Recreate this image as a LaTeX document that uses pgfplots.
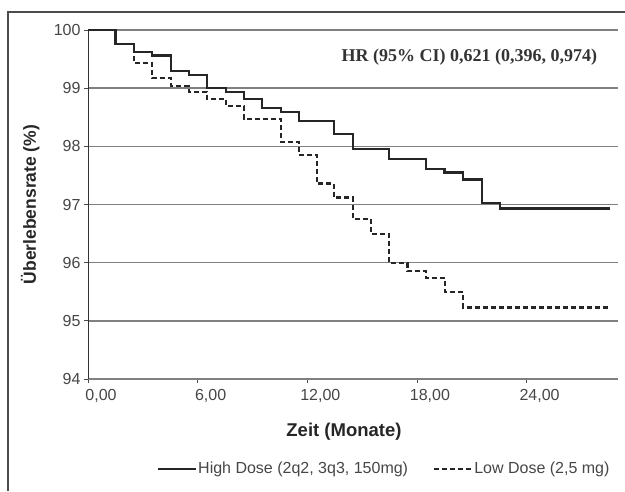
\documentclass[border=0pt]{standalone}
\usepackage{pgfplots}
\pgfplotsset{compat=1.18}
\usepackage{fontspec}
\setmainfont{Liberation Sans}
\newfontfamily\timesfont{Liberation Serif}
\definecolor{gridgray}{RGB}{128,128,128}
\definecolor{txtgray}{RGB}{70,70,70}
\begin{document}
\begin{tikzpicture}[x=1pt,y=1pt]
\path[use as bounding box] (0,0) rectangle (625,491);
\draw[line width=1.2pt, black!70] (8,0) -- (8,479) -- (625,479);
\begin{axis}[
    at={(88pt,112pt)}, anchor=south west,
    scale only axis,
    width=530pt, height=349pt,
    xmin=0, xmax=29,
    ymin=94, ymax=100,
    axis x line=bottom, axis y line=left,
    axis line style={-},
    x axis line style={gridgray, line width=1.5pt},
    y axis line style={black!80, line width=0.9pt},
    xtick={0,6,12,18,24},
    xticklabels={{0,00},{6,00},{12,00},{18,00},{24,00}},
    ytick={94,95,96,97,98,99,100},
    tick align=outside,
    major tick length=4pt,
    tick style={black!70, line width=0.8pt},
    ymajorgrids,
    grid style={gridgray, line width=1.5pt},
    tick label style={font=\fontsize{16}{19}\selectfont, text=txtgray},
    xticklabel style={xshift=13pt, yshift=-3pt},
    /pgf/number format/assume math mode=true,
    every axis x label/.style={at={(axis description cs:0.483,-0.152)}, anchor=center},
    every axis y label/.style={at={(axis description cs:-0.109,0.5)}, anchor=center, rotate=90},
    xlabel={\fontsize{18.5}{22}\selectfont\bfseries Zeit (Monate)},
    ylabel={\fontsize{17.5}{21}\selectfont\bfseries Überlebensrate (\%)},
    label style={text=black!85},
    legend style={draw=none, fill=none, at={(axis description cs:0.558,-0.257)}, anchor=center,
        font=\fontsize{16}{19}\selectfont, text=txtgray, legend columns=2,
        nodes={inner xsep=1pt},
        /tikz/every even column/.append style={column sep=24pt}},
    legend image code/.code={\draw[#1] (0pt,0pt) -- (38pt,0pt);},
    clip=false,
]
\addplot[const plot, black!85, line width=2.2pt] coordinates {
(0,100) (1.5,99.76) (2.53,99.62) (3.52,99.56) (4.52,99.30) (5.53,99.23)
(6.53,99.00) (7.53,98.94) (8.53,98.82) (9.54,98.66) (10.54,98.59) (11.54,98.43)
(13.48,98.21) (14.48,97.95) (16.49,97.78) (18.51,97.61) (19.51,97.55)
(20.53,97.43) (21.54,97.02) (22.54,96.93) (28.55,96.93)};
\addlegendentry{High Dose (2q2, 3q3, 150mg)}
\addplot[const plot, black!85, line width=2.2pt, dash pattern=on 5pt off 3pt] coordinates {
(0,100) (1.5,99.76) (2.53,99.43) (3.52,99.17) (4.52,99.04) (5.53,98.94)
(6.53,98.81) (7.53,98.69) (8.53,98.47) (10.54,98.08) (11.54,97.85)
(12.51,97.36) (13.48,97.12) (14.48,96.75) (15.48,96.49) (16.49,95.99)
(17.48,95.86) (18.51,95.73) (19.53,95.49) (20.53,95.23) (28.55,95.23)};
\addlegendentry{Low Dose (2,5 mg)}
\node[font=\timesfont\bfseries\fontsize{18}{21}\selectfont, text=black!80]
    at (axis cs:20.87,99.54) {HR (95\% CI) 0,621 (0,396, 0,974)};
\end{axis}
\end{tikzpicture}
\end{document}
